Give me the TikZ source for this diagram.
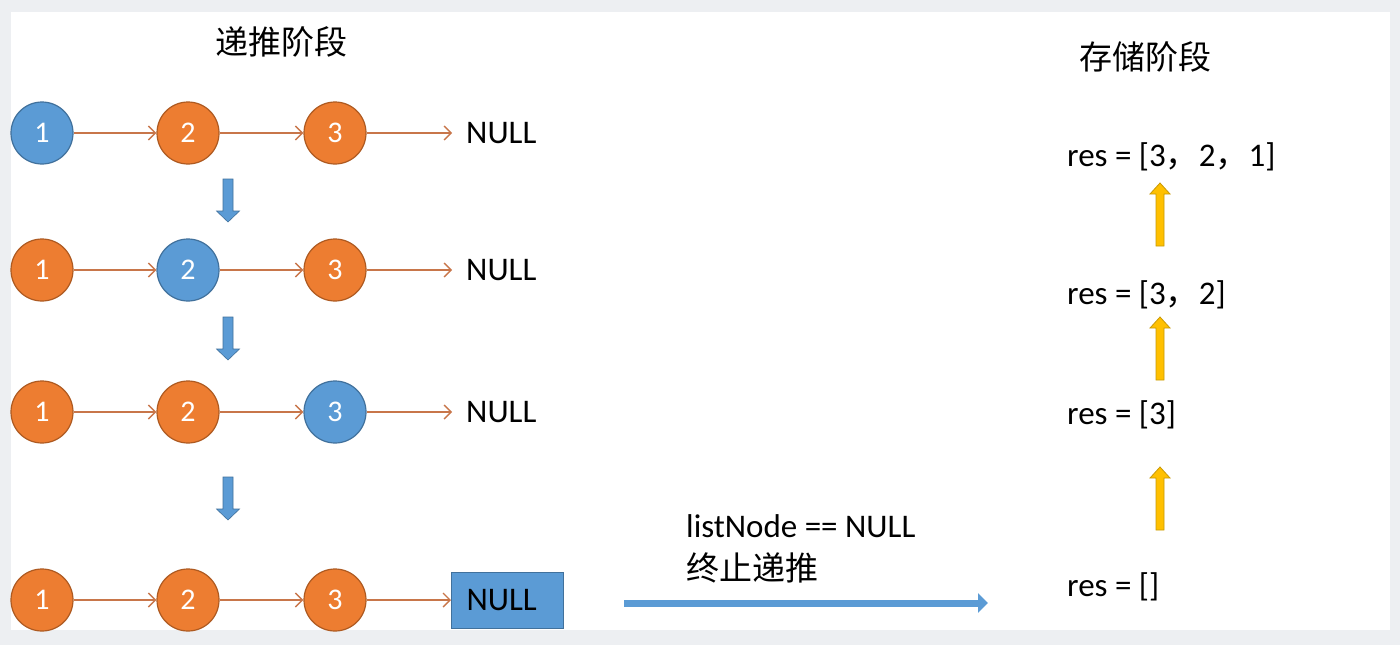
\documentclass[tikz,border=0pt]{standalone}
\usepackage{fontspec}
\setmainfont{Carlito}
\newfontfamily\cjk{Noto Sans CJK SC}
\usetikzlibrary{arrows.meta}
\definecolor{pagegray}{HTML}{EDEFF2}
\definecolor{nblue}{HTML}{5B9BD5}
\definecolor{nbluedark}{HTML}{41719C}
\definecolor{norange}{HTML}{ED7D31}
\definecolor{norangedark}{HTML}{AE5A21}
\definecolor{linkcol}{HTML}{C8764A}
\definecolor{ngold}{HTML}{FFC000}
\definecolor{ngolddark}{HTML}{C99A06}
\tikzset{
  circ/.style={circle, minimum size=62pt, inner sep=0pt, line width=1.2pt, text=white,
    font=\fontsize{30}{30}\selectfont},
  bluec/.style={circ, fill=nblue, draw=nbluedark},
  orangec/.style={circ, fill=norange, draw=norangedark},
  link/.style={draw=linkcol, line width=1.4pt, -{Straight Barb[length=7pt,width=14pt]}},
  lbl/.style={inner sep=0pt, text height=21pt, text depth=0pt, font=\fontsize{33}{33}\selectfont},
  nulltxt/.style={lbl, anchor=west, inner xsep=14pt},
  title/.style={inner sep=0pt, font=\cjk\fontsize{33}{33}\selectfont},
  downarr/.pic={\filldraw[fill=nblue, draw=nbluedark, line width=0.6pt]
    (-5,0)--(5,0)--(5,32)--(11.5,32)--(0,43)--(-11.5,32)--(-5,32)--cycle;},
  uparr/.pic={\filldraw[fill=ngold, draw=ngolddark, line width=0.8pt]
    (0,0)--(10,11)--(4,11)--(4,63)--(-4,63)--(-4,11)--(-10,11)--cycle;}
}
\begin{document}
\begin{tikzpicture}[x=1pt,y=-1pt]
\fill[pagegray] (0,0) rectangle (1400,645);
\fill[white] (11,12) rectangle (1390,630);
\useasboundingbox (0,0) rectangle (1400,645);

\node[title] (t1) at (281,42) {递推阶段};
\node[title] (t2) at (1145,57) {存储阶段};

% row 1
\node[bluec] (a1) at (42,133) {1};
\node[orangec] (a2) at (188,133) {2};
\node[orangec] (a3) at (335,133) {3};
\node[nulltxt] (an) at (452,133) {NULL};
\draw[link] (a1) -- (a2);
\draw[link] (a2) -- (a3);
\draw[link] (a3) -- (an);
% row 2
\node[orangec] (b1) at (42,270) {1};
\node[bluec] (b2) at (188,270) {2};
\node[orangec] (b3) at (335,270) {3};
\node[nulltxt] (bn) at (452,270) {NULL};
\draw[link] (b1) -- (b2);
\draw[link] (b2) -- (b3);
\draw[link] (b3) -- (bn);
% row 3
\node[orangec] (c1) at (42,412) {1};
\node[orangec] (c2) at (188,412) {2};
\node[bluec] (c3) at (335,412) {3};
\node[nulltxt] (cn) at (452,412) {NULL};
\draw[link] (c1) -- (c2);
\draw[link] (c2) -- (c3);
\draw[link] (c3) -- (cn);
% row 4
\node[orangec] (d1) at (42,600) {1};
\node[orangec] (d2) at (188,600) {2};
\node[orangec] (d3) at (335,600) {3};
\node[lbl, anchor=west, fill=nblue, draw=nbluedark, line width=1pt, text width=82pt, align=left,
  inner xsep=15pt, minimum height=56pt] (dn) at (451,600) {NULL};
\draw[link] (d1) -- (d2);
\draw[link] (d2) -- (d3);
\draw[link] (d3) -- (dn);

% down arrows
\pic at (228,179) {downarr};
\pic at (228,317) {downarr};
\pic at (228,477) {downarr};

% terminate arrow
\node[lbl, anchor=west] (cond) at (686,527) {listNode == NULL};
\node[title, anchor=west] (stop) at (686,568) {终止递推};
\coordinate (bs) at (624,603);
\coordinate (be) at (988,603);
\draw[draw=nblue, line width=7pt, -{Triangle[length=10pt,width=19pt]}] (bs) -- (be);

% right side
\node[lbl, anchor=west] (r3) at (1067,156) {res = [3{\cjk ，}2{\cjk ，}1]};
\node[lbl, anchor=west] (r2) at (1067,294) {res = [3{\cjk ，}2]};
\node[lbl, anchor=west] (r1) at (1067,414) {res = [3]};
\node[lbl, anchor=west] (r0) at (1067,586) {res = []};
\pic at (1160,183) {uparr};
\pic at (1160,317) {uparr};
\pic at (1160,467) {uparr};
\end{tikzpicture}
\end{document}
